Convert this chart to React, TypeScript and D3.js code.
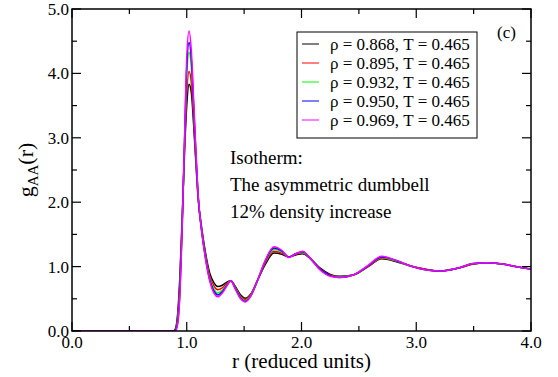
import React from "react";
import * as d3 from "d3";

const rValues = [0, 0.85, 0.88, 0.9, 0.92, 0.94, 0.96, 0.98, 1.0, 1.02, 1.04, 1.06, 1.08, 1.1, 1.13, 1.16, 1.2, 1.24, 1.27, 1.31, 1.35, 1.385, 1.42, 1.47, 1.51, 1.56, 1.62, 1.68, 1.76, 1.83, 1.89, 1.95, 2.01, 2.08, 2.16, 2.25, 2.33, 2.45, 2.58, 2.7, 2.82, 2.95, 3.08, 3.2, 3.35, 3.5, 3.62, 3.75, 3.9, 4.0];

const g0868 = [0, 0, 0.0, 0.03, 0.25, 0.85, 1.75, 2.75, 3.5, 3.83, 3.7, 3.2, 2.6, 2.05, 1.6, 1.25, 0.9, 0.74, 0.69, 0.71, 0.76, 0.78, 0.7, 0.56, 0.51, 0.58, 0.8, 1.02, 1.21, 1.19, 1.15, 1.18, 1.2, 1.12, 0.98, 0.88, 0.85, 0.87, 1.0, 1.12, 1.08, 1.01, 0.96, 0.93, 0.97, 1.04, 1.06, 1.04, 0.99, 0.96];
const g0895 = [0, 0, 0.0, 0.02, 0.2, 0.75, 1.7, 2.8, 3.7, 4.03, 3.85, 3.3, 2.65, 2.05, 1.58, 1.22, 0.86, 0.69, 0.64, 0.67, 0.74, 0.78, 0.69, 0.54, 0.49, 0.57, 0.8, 1.04, 1.24, 1.21, 1.15, 1.19, 1.21, 1.12, 0.97, 0.87, 0.84, 0.87, 1.0, 1.13, 1.09, 1.01, 0.96, 0.93, 0.97, 1.04, 1.06, 1.04, 0.99, 0.96];
const g0932 = [0, 0, 0.0, 0.01, 0.15, 0.65, 1.65, 2.85, 3.95, 4.33, 4.1, 3.45, 2.72, 2.07, 1.56, 1.19, 0.82, 0.64, 0.59, 0.63, 0.72, 0.78, 0.68, 0.52, 0.47, 0.56, 0.8, 1.06, 1.27, 1.23, 1.15, 1.2, 1.22, 1.12, 0.96, 0.86, 0.84, 0.87, 1.01, 1.14, 1.09, 1.01, 0.95, 0.93, 0.97, 1.05, 1.06, 1.04, 0.99, 0.96];
const g0950 = [0, 0, 0.0, 0.01, 0.12, 0.6, 1.6, 2.9, 4.1, 4.48, 4.22, 3.5, 2.75, 2.08, 1.55, 1.17, 0.8, 0.61, 0.56, 0.61, 0.71, 0.78, 0.67, 0.51, 0.46, 0.55, 0.8, 1.07, 1.29, 1.24, 1.15, 1.2, 1.23, 1.12, 0.96, 0.86, 0.83, 0.87, 1.01, 1.15, 1.1, 1.01, 0.95, 0.93, 0.97, 1.05, 1.06, 1.04, 0.99, 0.96];
const g0969 = [0, 0, 0.0, 0.0, 0.1, 0.55, 1.6, 2.95, 4.25, 4.66, 4.35, 3.6, 2.8, 2.1, 1.55, 1.16, 0.78, 0.58, 0.53, 0.59, 0.7, 0.78, 0.66, 0.5, 0.45, 0.55, 0.8, 1.08, 1.31, 1.25, 1.14, 1.2, 1.24, 1.12, 0.95, 0.85, 0.83, 0.87, 1.02, 1.16, 1.1, 1.01, 0.95, 0.93, 0.97, 1.05, 1.06, 1.04, 0.99, 0.96];

const seriesValues = [g0868, g0895, g0932, g0950, g0969];
const seriesLabels = ["ρ = 0.868, T = 0.465", "ρ = 0.895, T = 0.465", "ρ = 0.932, T = 0.465", "ρ = 0.950, T = 0.465", "ρ = 0.969, T = 0.465"];
const seriesColors = ["#000000", "#ff0000", "#00ff00", "#0000ff", "#ff00ff"];

const xMajorTicks = [0, 1, 2, 3, 4];
const xMinorTicks = [0.5, 1.5, 2.5, 3.5];
const yMajorTicks = [0, 1, 2, 3, 4, 5];
const yMinorTicks = [0.5, 1.5, 2.5, 3.5, 4.5];
const annotationLines = ["Isotherm:", "The asymmetric dumbbell", "12% density increase"];

const W = 558, H = 377;
const L = 72, R = 531, T = 9, B = 331;
const FONT = "Liberation Serif, Times New Roman, Times, DejaVu Serif, serif";

export default function App() {
  const x = d3.scaleLinear().domain([0, 4]).range([L, R]);
  const y = d3.scaleLinear().domain([0, 5]).range([B, T]);
  const line = d3.line<number>()
    .x((_, i) => x(rValues[i]))
    .y((d) => y(d))
    .curve(d3.curveMonotoneX);

  const major = 9, minor = 5;
  return (
    <svg width={W} height={H} style={{ position: "absolute", left: 0, top: 0, fontFamily: FONT }}>
      <rect width={W} height={H} fill="#fff" />
      <defs>
        <clipPath id="clip"><rect x={L} y={T} width={R - L} height={B - T} /></clipPath>
      </defs>
      <g clipPath="url(#clip)">
        {seriesValues.map((vals, k) => (
          <path key={k} d={line(vals) || ""} fill="none" stroke={seriesColors[k]} strokeWidth={1.5} />
        ))}
      </g>
      <rect x={L} y={T} width={R - L} height={B - T} fill="none" stroke="#000" strokeWidth={1.5} />
      {xMajorTicks.map((t) => (
        <g key={"xM" + t}>
          <line x1={x(t)} x2={x(t)} y1={B} y2={B - major} stroke="#000" strokeWidth={1.2} />
          <line x1={x(t)} x2={x(t)} y1={T} y2={T + major} stroke="#000" strokeWidth={1.2} />
          <text x={x(t)} y={B + 17} fontSize={17} textAnchor="middle">{t.toFixed(1)}</text>
        </g>
      ))}
      {xMinorTicks.map((t) => (
        <g key={"xm" + t}>
          <line x1={x(t)} x2={x(t)} y1={B} y2={B - minor} stroke="#000" strokeWidth={1.2} />
          <line x1={x(t)} x2={x(t)} y1={T} y2={T + minor} stroke="#000" strokeWidth={1.2} />
        </g>
      ))}
      {yMajorTicks.map((t) => (
        <g key={"yM" + t}>
          <line x1={L} x2={L + major} y1={y(t)} y2={y(t)} stroke="#000" strokeWidth={1.2} />
          <line x1={R} x2={R - major} y1={y(t)} y2={y(t)} stroke="#000" strokeWidth={1.2} />
          <text x={L - 3} y={y(t) + 6} fontSize={17} textAnchor="end">{t.toFixed(1)}</text>
        </g>
      ))}
      {yMinorTicks.map((t) => (
        <g key={"ym" + t}>
          <line x1={L} x2={L + minor} y1={y(t)} y2={y(t)} stroke="#000" strokeWidth={1.2} />
          <line x1={R} x2={R - minor} y1={y(t)} y2={y(t)} stroke="#000" strokeWidth={1.2} />
        </g>
      ))}
      <text x={(L + R) / 2} y={368} fontSize={21} textAnchor="middle">r (reduced units)</text>
      <text transform={`translate(33, ${(T + B) / 2}) rotate(-90)`} fontSize={22} textAnchor="middle">
        g<tspan fontSize={15} dy={5}>AA</tspan><tspan dy={-5}>(r)</tspan>
      </text>
      <text x={497} y={38} fontSize={17}>(c)</text>
      <rect x={297} y={32} width={180} height={106} fill="#fff" stroke="#000" strokeWidth={1} />
      {seriesLabels.map((lab, k) => (
        <g key={"lg" + k}>
          <line x1={302} x2={319} y1={44 + k * 19} y2={44 + k * 19} stroke={seriesColors[k]} strokeWidth={1} />
          <text x={330} y={50 + k * 19} fontSize={17}>{lab}</text>
        </g>
      ))}
      {annotationLines.map((s, i) => (
        <text key={"an" + i} x={230} y={164 + i * 27} fontSize={19}>{s}</text>
      ))}
    </svg>
  );
}
